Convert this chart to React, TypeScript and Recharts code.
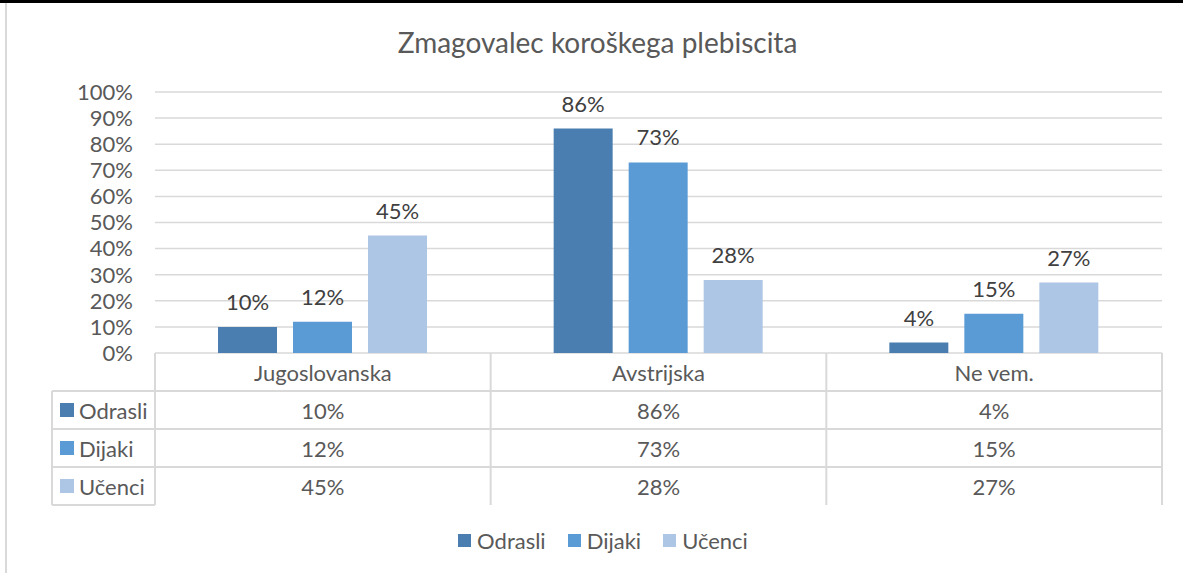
import React from 'react';
import { Bar, BarChart, CartesianGrid, LabelList, Legend, XAxis, YAxis } from 'recharts';

const categories = ['Jugoslovanska', 'Avstrijska', 'Ne vem.'];
const seriesNames = ['Odrasli', 'Dijaki', 'Učenci'];
const odrasli = [10, 86, 4];
const dijaki = [12, 73, 15];
const ucenci = [45, 28, 27];
const yTicks = [0, 10, 20, 30, 40, 50, 60, 70, 80, 90, 100];

const colors = ['#4a7eb0', '#5b9bd5', '#adc6e6'];
const seriesValues = [odrasli, dijaki, ucenci];
const keys = ['odrasli', 'dijaki', 'ucenci'];

const data = categories.map((name, i) => ({
    name,
    odrasli: odrasli[i],
    dijaki: dijaki[i],
    ucenci: ucenci[i],
}));

const W = 1185;
const H = 573;
const FONT = 'Lato, "Open Sans", sans-serif';
const FS = 22;
const TEXT = '#595959';
const LINE = '#d9d9d9';
const ROW = 38;
const TABLE_LEFT = 52;

const pct = (v: number) => `${v}%`;

// one column of the data table, drawn under each category tick
const TableTick = (props: any) => {
    const { x, y, payload, index, plotWidth } = props;
    const half = plotWidth / categories.length / 2;
    const left = x - half;
    const right = x + half;
    const bottom = y + ROW * 4;
    return (
        <g fontFamily={FONT} fontSize={FS} fill={TEXT}>
            <line x1={right} y1={y} x2={right} y2={bottom} stroke={LINE} strokeWidth={2} />
            {index === 0 && <line x1={left} y1={y} x2={left} y2={bottom} stroke={LINE} strokeWidth={2} />}
            <text x={x} y={y + ROW / 2} textAnchor="middle" dominantBaseline="central">
                {payload.value}
            </text>
            {seriesValues.map((vals, r) => (
                <g key={r}>
                    <line
                        x1={index === 0 ? TABLE_LEFT : left}
                        y1={y + ROW * (r + 1)}
                        x2={right}
                        y2={y + ROW * (r + 1)}
                        stroke={LINE}
                        strokeWidth={2}
                    />
                    <text x={x} y={y + ROW * (r + 1.5)} textAnchor="middle" dominantBaseline="central">
                        {pct(vals[index])}
                    </text>
                    {index === 0 && (
                        <g>
                            <rect x={TABLE_LEFT + 8} y={y + ROW * (r + 1.5) - 7} width={14} height={14} fill={colors[r]} />
                            <text x={TABLE_LEFT + 27} y={y + ROW * (r + 1.5)} dominantBaseline="central" textAnchor="start">
                                {seriesNames[r]}
                            </text>
                        </g>
                    )}
                </g>
            ))}
            {index === 0 && (
                <g>
                    <line x1={TABLE_LEFT} y1={y + ROW} x2={TABLE_LEFT} y2={bottom} stroke={LINE} strokeWidth={2} />
                    <line x1={TABLE_LEFT} y1={bottom} x2={left} y2={bottom} stroke={LINE} strokeWidth={2} />
                </g>
            )}
        </g>
    );
};

const BottomLegend = () => (
    <div
        style={{
            display: 'flex',
            justifyContent: 'center',
            paddingLeft: 21,
            fontFamily: FONT,
            fontSize: FS,
            color: TEXT,
        }}
    >
        {seriesNames.map((n, i) => (
            <div key={n} style={{ display: 'flex', alignItems: 'center', marginRight: i < 2 ? 22 : 0 }}>
                <span style={{ width: 13, height: 13, background: colors[i], marginRight: 6 }} />
                <span>{n}</span>
            </div>
        ))}
    </div>
);

const App: React.FC = () => {
    const margin = { top: 92, right: 23, bottom: 20, left: 35 };
    const yWidth = 120;
    const plotWidth = W - margin.left - margin.right - yWidth;
    return (
        <div style={{ position: 'relative', width: W, height: H, background: '#fff', overflow: 'hidden' }}>
            <style>{'body{margin:0}'}</style>
            <div style={{ position: 'absolute', left: 0, top: 0, width: 1183, height: 3, background: '#000' }} />
            <div style={{ position: 'absolute', left: 5, top: 3, width: 2, height: H - 3, background: LINE }} />
            <div
                style={{
                    position: 'absolute',
                    top: 25,
                    left: 0,
                    width: W,
                    textAlign: 'center',
                    fontFamily: FONT,
                    fontSize: 28,
                    color: TEXT,
                    paddingLeft: 10,
                    boxSizing: 'border-box',
                }}
            >
                Zmagovalec koroškega plebiscita
            </div>
            <BarChart width={W} height={H} data={data} margin={margin} barSize={59} barGap={16}>
                <CartesianGrid vertical={false} stroke={LINE} strokeWidth={1.5} />
                <XAxis
                    dataKey="name"
                    height={200}
                    axisLine={false}
                    tickLine={false}
                    tickSize={0}
                    tickMargin={0}
                    interval={0}
                    tick={<TableTick plotWidth={plotWidth} />}
                />
                <YAxis
                    width={yWidth}
                    domain={[0, 100]}
                    ticks={yTicks}
                    interval={0}
                    tickFormatter={pct}
                    axisLine={false}
                    tickLine={false}
                    tickSize={0}
                    tickMargin={22}
                    tick={{ fill: TEXT, fontSize: FS, fontFamily: FONT }}
                />
                <Legend
                    layout="horizontal"
                    verticalAlign="middle"
                    align="center"
                    wrapperStyle={{ top: 527, left: 0, width: W }}
                    content={<BottomLegend />}
                />
                {keys.map((k, i) => (
                    <Bar key={k} dataKey={k} name={seriesNames[i]} fill={colors[i]} isAnimationActive={false}>
                        <LabelList
                            dataKey={k}
                            position="top"
                            offset={17}
                            formatter={(v: any) => pct(v)}
                            fill="#404040"
                            fontSize={FS}
                            fontFamily={FONT}
                        />
                    </Bar>
                ))}
            </BarChart>
        </div>
    );
};

export default App;
